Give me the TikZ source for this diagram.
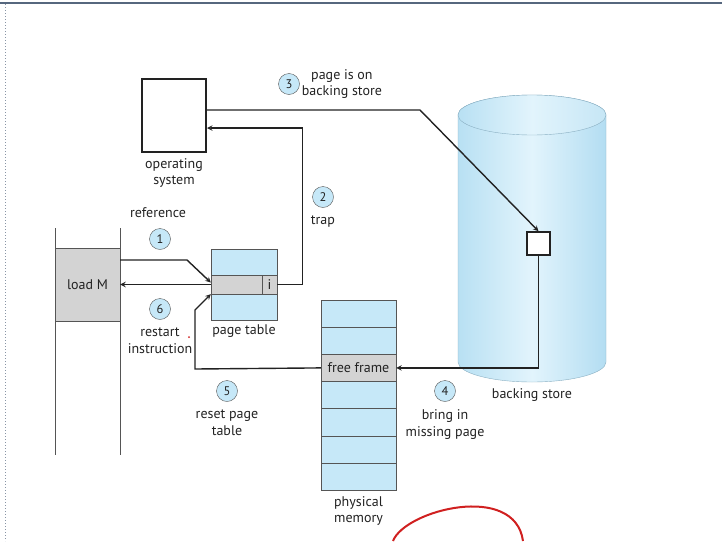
\documentclass[tikz,border=0pt]{standalone}
\usepackage{fontspec}
\setmainfont{PT Sans}
\usetikzlibrary{arrows,positioning,shapes.geometric}
\definecolor{vmBlue}{HTML}{C6E8F8}
\definecolor{vmCylL}{HTML}{B8E0F3}
\definecolor{vmCylM}{HTML}{E2F4FC}
\definecolor{vmCylR}{HTML}{B3DDF2}
\definecolor{vmCylEdge}{HTML}{8AAFC2}
\definecolor{vmGrey}{HTML}{D3D3D3}
\definecolor{vmInk}{HTML}{222222}
\definecolor{vmEdge}{HTML}{555555}
\definecolor{vmFrame}{HTML}{56677E}
\definecolor{vmPen}{HTML}{D02020}

\begin{document}
\begin{tikzpicture}[>=stealth,x=1pt,y=-1pt,
 stepnum/.style={circle,draw=vmEdge,fill=vmBlue,inner sep=0pt,minimum size=21pt,
   font=\fontsize{12.5}{14}\selectfont,text=vmInk},
 caption/.style={align=center,font=\fontsize{14}{16.5}\selectfont,text=vmInk,inner sep=1pt},
 cell/.style={draw=vmEdge,fill=vmGrey,inner sep=0pt,font=\fontsize{14}{15}\selectfont,text=vmInk},
 flow/.style={->,line width=1.4pt,vmInk}]
\useasboundingbox (0,0) rectangle (722,541);
\draw[vmFrame,line width=2pt] (0,3) -- (722,3);
\draw[vmFrame!70,dotted,line width=1pt] (5,4) -- (5,541);

% backing store
\shade[left color=vmCylL,right color=vmCylR,middle color=vmCylM,draw=vmCylEdge]
 (458,115) -- (458,362) arc[start angle=180,end angle=360,x radius=74pt,y radius=20pt]
 -- (606,115) arc[start angle=0,end angle=180,x radius=74pt,y radius=20pt] -- cycle;
\shade[left color=vmCylL,right color=vmCylL!80!white,middle color=vmCylM,draw=vmCylEdge]
 (532,115) ellipse[x radius=74pt,y radius=20pt];
\node[caption] (bslbl) at (532,395) {backing store};
\node[draw=vmInk,line width=1.6pt,fill=white,minimum size=23pt] (slot) at (538.5,243.5) {};

% operating system
\node[draw=vmInk,line width=2pt,minimum width=64pt,minimum height=73pt] (os) at (174,115.5) {};
\node[caption,below=4pt of os] (oslbl) {operating\\system};

% program
\draw[vmEdge,line width=0.8pt] (55,228) -- (55,455);
\draw[vmEdge,line width=0.8pt] (120,228) -- (120,455);
\node[cell,minimum width=65pt,minimum height=73pt] (loadm) at (87.5,284.5) {load M};

% page table
\node[draw=vmEdge,fill=vmBlue,minimum width=66pt,minimum height=71pt] (pt) at (244,284.5) {};
\node[cell,minimum width=66pt,minimum height=19pt] (ptrow) at (244,284.5) {};
\node[cell,minimum width=15pt,minimum height=19pt,anchor=east] (icell) at (ptrow.east) {i};
\node[caption,below=3pt of pt] (ptlbl) {page table};

% physical memory
\node[draw=vmEdge,fill=vmBlue,minimum width=75pt,minimum height=190pt] (mem) at (358.5,395) {};
\foreach \k in {1,...,6}
 \draw[vmEdge] (321,300+27.14*\k) -- (396,300+27.14*\k);
\node[cell,minimum width=75pt,minimum height=27pt] (free) at (358.5,367.9) {free frame};
\node[caption,below=5pt of mem] (memlbl) {physical\\memory};

% steps
\node[caption] (reflbl) at (158,213) {reference};
\node[stepnum] (s1) at (160,239) {1};
\node[stepnum] (s2) at (323,197) {2};
\node[caption,below=7pt of s2] (traplbl) {trap};
\node[stepnum] (s3) at (289,84) {3};
\node[caption,right=1pt of s3] (s3lbl) {page is on\\backing store};
\node[stepnum] (s4) at (445,391) {4};
\node[caption,below=7pt of s4] (s4lbl) {bring in\\missing page};
\node[stepnum] (s5) at (227,391) {5};
\node[caption,below=7pt of s5] (s5lbl) {reset page\\table};
\node[stepnum] (s6) at (160,309) {6};
\node[caption,below=7pt of s6] (s6lbl) {restart\\instruction};

\draw[flow] ([yshift=24.5pt]loadm.east) -- (187,260) -- ([yshift=2pt]ptrow.west);
\draw[flow] (icell.east) -- ++(25,0) |- ([yshift=-12.5pt]os.east);
\draw[flow] ([yshift=5.5pt]os.east) -- (420,110) -- (slot.north);
\draw[flow] (slot.south) |- (free.east);
\draw[flow] (free.west) -- (195,369) -- (195,310) -- (ptrow.south west);
\draw[flow] (ptrow.west) -- (loadm.east);

\fill[vmPen] (189,337) circle (1pt);
\draw[vmPen,line width=2pt] (393,541) .. controls (405,510) and (515,482) .. (523,541);
\end{tikzpicture}
\end{document}
